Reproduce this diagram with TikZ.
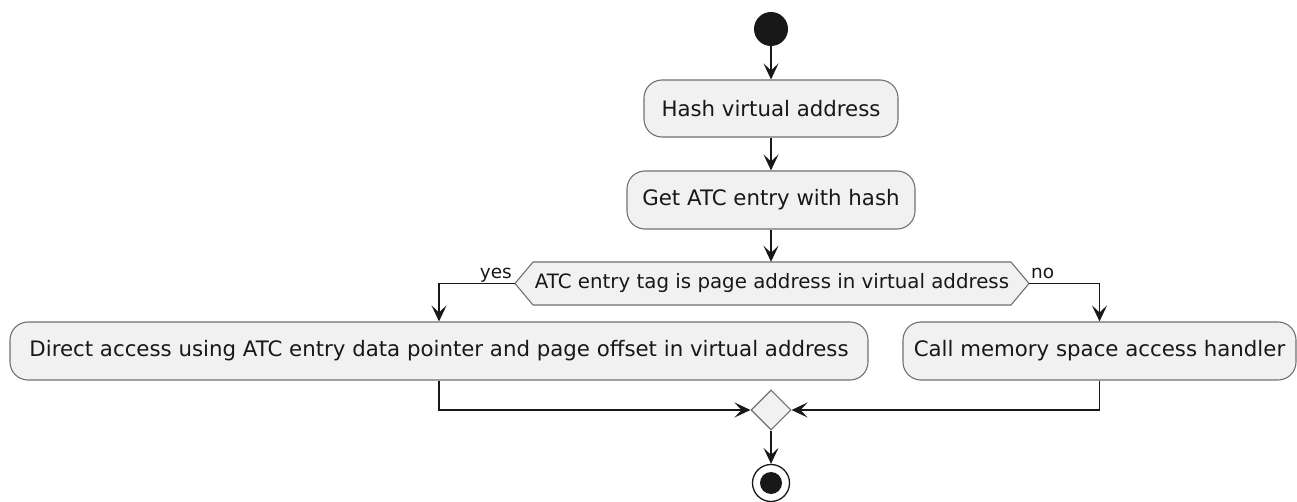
\documentclass[tikz,border=0pt]{standalone}
\usepackage{fontspec}
\setmainfont{DejaVu Sans}
\usetikzlibrary{arrows.meta,shapes.geometric}
\definecolor{boxfill}{HTML}{F1F1F1}
\definecolor{ink}{HTML}{181818}
\definecolor{edgegray}{HTML}{707070}
\begin{document}
\begin{tikzpicture}[x=1pt,y=-1pt,
  act/.style={draw=edgegray, line width=1.1pt, fill=boxfill, rounded corners=18pt,
    inner sep=0pt, font=\fontsize{21.3}{25}\selectfont, text=ink},
  flow/.style={draw=ink, line width=1.6pt, -{Stealth[length=16pt,width=15pt,inset=7pt]}},
  lbl/.style={font=\fontsize{18.5}{22}\selectfont, text=ink, inner sep=0pt},
  hexshape/.style={draw=edgegray, line width=1.1pt, fill=boxfill}]
\useasboundingbox (0,0) rectangle (1297,502);
% start
\node[circle, fill=ink, minimum size=34pt, inner sep=0pt] (start) at (771,29) {};
% actions
\node[act, minimum width=254pt, minimum height=57pt] (a1) at (771,108.5) {Hash virtual address};
\node[act, minimum width=288pt, minimum height=58pt] (a2) at (771,200) {Get ATC entry with hash};
% decision
\draw[hexshape] (515,283.5) -- (533,262) -- (1011,262) -- (1029,283.5) -- (1011,305) -- (533,305) -- cycle;
\node[minimum width=514pt, minimum height=43pt, inner sep=0pt, font=\fontsize{19.8}{23}\selectfont, text=ink] (hex) at (772,283.5) {ATC entry tag is page address in virtual address};
% branches
\node[act, minimum width=858pt, minimum height=58pt] (a3) at (439,351) {Direct access using ATC entry data pointer and page offset in virtual address};
\node[act, minimum width=393pt, minimum height=58pt] (a4) at (1099.5,351) {Call memory space access handler};
% merge
\node[diamond, draw=edgegray, line width=1.1pt, fill=boxfill, minimum width=40pt, minimum height=40pt, inner sep=0pt, aspect=1] (merge) at (771,410) {};
% end
\node[circle, draw=ink, line width=1.3pt, fill=white, minimum size=37pt, inner sep=0pt] (end) at (771,483) {};
\node[circle, fill=ink, minimum size=22pt, inner sep=0pt] (endin) at (end.center) {};
% labels
\node[lbl, anchor=base east] (yes) at (512,279) {yes};
\node[lbl, anchor=base west] (no) at (1031,279) {no};
% connectors
\draw[flow] (start) -- (a1);
\draw[flow] (a1) -- (a2);
\draw[flow] (a2) -- (a2 |- hex.north);
\draw[flow] (hex.west) -| (a3);
\draw[flow] (hex.east) -| (a4);
\draw[flow] (a3) |- (merge);
\draw[flow] (a4) |- (merge);
\draw[flow] (merge) -- (end);
\end{tikzpicture}
\end{document}
